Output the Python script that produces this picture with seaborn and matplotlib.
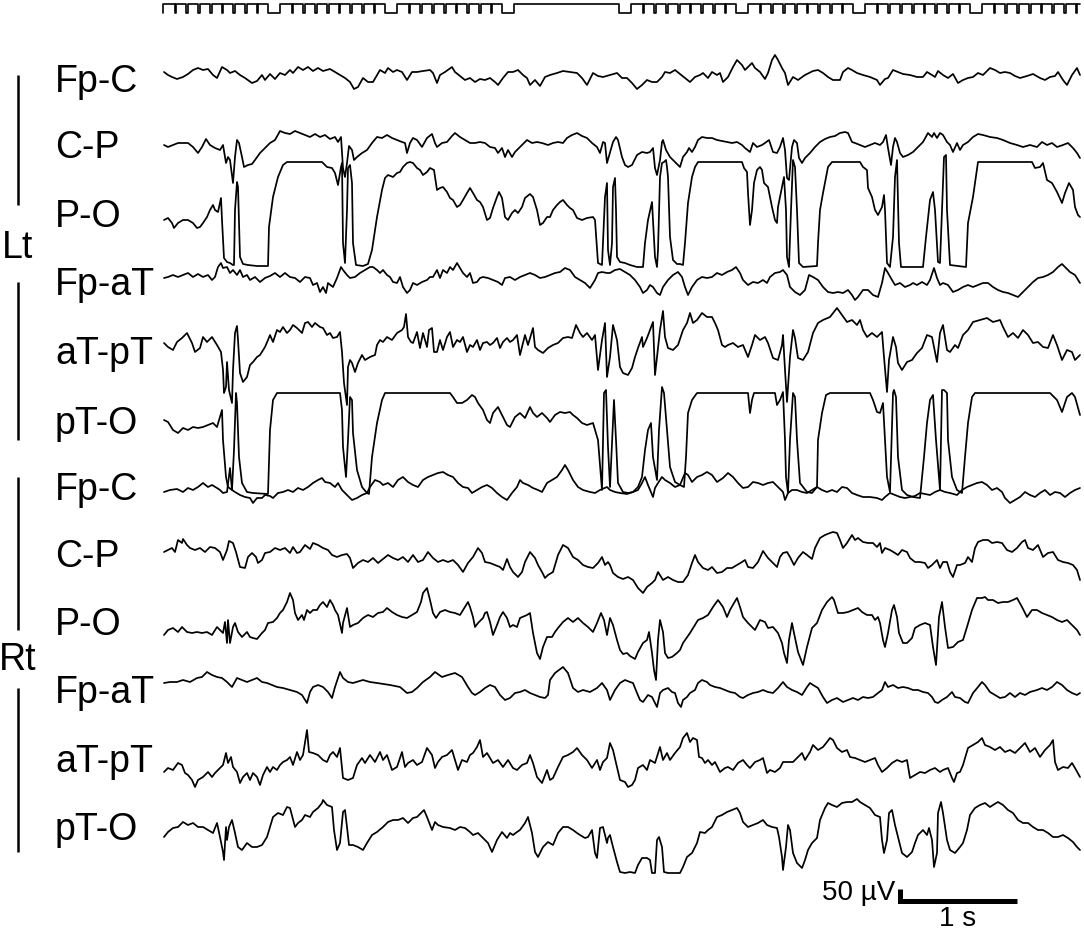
import numpy as np
import pandas as pd
import matplotlib
matplotlib.use('Agg')
import matplotlib.pyplot as plt
import seaborn as sns

# Digitised EEG epoch, one array per derivation: (sample number, raw value).
# Sampling 117 Hz, epoch starts at sample 163, raw values are negative-up (EEG convention),
# 1 raw unit = 4 uV.
fs = 117.0
n0 = 163
uv_per_unit = 4.0

lt_fp_c = [(164,72),(168,75),(172,77),(177,79),(183,77),(188,74),(193,70),(198,68),(203,70),(208,69),(213,75),(217,78),(222,67),(227,70),(230,73),(235,71),(240,75),(245,78),(252,83),(257,81),(262,75),(265,80),(270,74),(275,79),(280,73),(285,75),(290,70),(293,73),(298,67),(303,70),(308,67),(313,71),(318,68),(323,71),(330,69),(335,72),(340,75),(345,78),(350,82),(354,89),(358,87),(363,78),(368,82),(373,82),(380,70),(385,73),(388,68),(393,72),(397,70),(402,72),(407,80),(412,72),(417,72),(423,71),(430,70),(433,73),(437,83),(440,75),(445,72),(452,67),(455,72),(460,76),(465,80),(470,78),(475,82),(480,79),(485,80),(490,78),(495,82),(498,85),(503,78),(508,72),(513,72),(518,70),(523,75),(527,78),(530,85),(535,80),(540,86),(545,77),(550,75),(557,73),(563,71),(570,72),(577,73),(582,78),(587,85),(593,73),(598,76),(603,77),
           (610,75),(617,73),(622,78),(627,78),(632,83),(637,89),(642,85),(647,80),(652,82),(657,82),(662,77),(665,72),(670,73),(675,70),(680,74),(685,78),(690,82),(695,77),(700,75),(703,73),(708,78),(712,72),(717,75),(720,73),(723,82),(728,77),(733,67),(737,60),(742,65),(745,70),(748,67),(752,63),(755,68),(760,72),(765,79),(768,73),(772,60),(775,55),(778,60),(782,68),(785,73),(788,85),(793,77),(798,80),(805,75),(813,71),(818,70),(823,73),(828,77),(833,80),(840,80),(843,72),(848,68),(852,70),(857,73),(863,75),(870,77),(877,80),(880,85),(885,79),(888,78),(893,70),(898,72),(903,74),(910,75),(917,77),(923,77),(927,72),(932,75),(935,77),(938,71),(943,75),(948,78),(953,74),(958,83),(963,80),(968,78),(973,77),(978,73),(983,75),(990,68),(995,70),(1000,73),(1005,72),(1010,73),(1015,76),(1020,78),(1027,76),(1033,74),(1040,78),(1045,80),(1050,77),(1055,76),(1058,72),(1063,80),(1067,85),(1072,75),(1077,68),(1080,75)]

lt_c_p = [(164,145),(168,147),(173,145),(178,143),(183,143),(188,143),(193,147),(198,153),(202,147),(206,139),(210,145),(215,148),(220,150),(223,145),(226,163),(228,157),(230,160),(233,183),(235,157),(237,140),(239,143),(242,157),(244,167),(248,165),(252,164),(255,160),(260,153),(265,148),(270,143),(275,140),(280,131),(285,133),(290,134),(295,131),(300,133),(305,135),(310,137),(315,134),(320,137),(325,135),(330,139),(335,137),(338,142),(341,137),(343,168),(345,177),(347,163),(349,146),(352,150),(354,160),(357,157),(362,153),(367,150),(372,143),(377,137),(382,138),(387,135),(392,138),(397,140),(402,142),(405,143),(407,153),(410,143),(413,138),(417,140),(422,147),(427,138),(432,134),(435,143),(437,147),(442,143),(447,142),(452,136),(455,133),(460,137),(465,140),(470,143),(475,143),(480,142),(485,143),(490,147),(495,148),(498,153),(502,148),(505,157),(508,150),(512,157),(515,152),(520,147),(527,140),(532,143),(537,142),(542,143),(548,145),(553,143),(558,142),(563,143),(567,138),(572,135),(577,133),(582,136),(587,138),(592,143),(597,147),(600,153),(603,142),(605,143),(607,163),
          (613,142),(616,137),(618,140),(622,157),(625,165),(628,167),(632,165),(637,155),(642,152),(647,153),(650,152),(653,148),(655,168),(657,175),(660,160),(662,142),(663,140),(666,150),(670,157),(675,162),(680,167),(683,157),(687,152),(689,148),(692,152),(695,147),(698,140),(702,137),(707,138),(712,138),(717,140),(722,141),(727,142),(732,143),(737,142),(742,145),(745,148),(750,152),(753,143),(757,147),(762,145),(765,143),(769,140),(773,152),(777,153),(780,147),(783,138),(785,150),(787,178),(789,180),(792,147),(794,140),(797,143),(799,158),(802,163),(805,158),(810,153),(815,147),(820,142),(825,139),(830,137),(835,136),(840,133),(845,132),(848,133),(852,142),(855,143),(860,145),(865,147),(870,145),(875,143),(880,145),(883,142),(886,135),(888,148),(891,165),(893,147),(895,138),(897,142),(900,153),(903,157),(908,155),(913,152),(918,147),(923,142),(928,133),(932,137),(934,133),(937,138),(940,133),(943,135),(947,142),(950,145),(953,152),(957,143),(960,150),(963,145),(968,142),(973,137),(978,134),(983,135),(990,137),(997,138),(1003,140),(1010,143),(1017,145),(1023,147),(1030,145),(1037,147),(1042,142),(1047,145),(1052,143),(1057,147),(1063,145),(1068,143),(1073,148),(1077,153),(1080,158)]

lt_p_o = [(164,220),(168,218),(172,223),(174,228),(178,223),(183,220),(188,220),(193,223),(197,228),(200,227),(203,223),(207,217),(210,210),(213,205),(215,210),(218,212),(220,203),(221,198),(222,220),(224,258),(227,262),(230,263),(233,265),(234,265),(235,210),(237,182),(238,187),(240,257),(243,264),(248,265),(257,266),(268,266),(269,227),(273,197),(278,177),(283,165),(287,162),(300,162),(317,162),(322,162),(327,167),(332,168),(335,173),(338,185),(341,167),(342,163),(343,243),(345,263),(347,210),(348,168),(350,165),(352,183),(353,243),(356,265),(363,266),(368,264),(372,250),(377,217),(382,190),(385,178),(388,175),(393,177),(397,173),(400,172),(403,167),(407,163),(410,162),(413,163),(417,168),(420,170),(423,175),(427,172),(430,168),(434,170),(437,190),(440,188),(443,187),(447,192),(450,198),(453,200),(457,207),(460,205),(463,200),(467,193),(470,188),(473,193),(477,200),(480,202),(483,207),(487,220),(490,218),(493,208),(497,197),(499,192),(502,198),(505,217),(508,220),(512,213),(515,210),(518,213),(522,207),(525,198),(530,194),(533,197),(537,210),(540,225),(543,223),(547,217),(550,217),(553,210),(557,205),(560,202),(563,200),(567,205),(570,208),(573,210),(577,218),(582,220),(587,218),(593,217),(595,220),(598,263),(602,265),(605,197),(607,183),(608,250),
          (610,265),(612,243),(613,187),(615,178),(616,210),(617,257),(620,262),(625,263),(630,265),(637,267),(643,267),(645,243),(648,220),(652,202),(653,220),(655,257),(657,267),(658,250),(660,177),(662,163),(664,162),(666,160),(667,167),(668,177),(670,237),(673,260),(677,264),(680,264),(683,265),(685,243),(688,203),(692,177),(695,167),(698,162),(710,162),(742,162),(744,168),(747,172),(748,193),(750,225),(752,210),(754,183),(757,170),(760,167),(762,170),(764,183),(768,187),(772,207),(775,220),(777,223),(778,207),(782,187),(784,177),(786,210),(787,257),(789,267),(791,210),(793,160),(795,167),(797,210),(799,263),(803,267),(817,266),(818,243),(820,210),(823,193),(828,167),(832,162),(860,162),(863,167),(867,170),(868,188),(872,197),(875,210),(878,215),(882,207),(884,195),(885,210),(887,263),(890,267),(893,237),(895,177),(897,160),(899,243),(901,267),(923,267),(926,237),(930,200),(933,192),(935,210),(938,262),(940,263),(942,210),(944,157),(946,155),(947,210),(950,265),(966,267),(968,223),(973,197),(978,162),(1032,162),(1035,168),(1040,167),(1043,163),(1047,180),(1052,183),(1057,192),(1062,203),(1065,193),(1069,183),(1073,190),(1075,207),(1078,215),(1080,217)]

lt_fp_at = [(164,278),(168,277),(173,275),(178,277),(183,275),(188,273),(193,277),(198,274),(203,277),(208,275),(212,280),(215,277),(218,267),(221,263),(223,268),(227,267),(230,273),(233,270),(237,275),(240,270),(243,277),(247,275),(250,280),(255,277),(260,282),(265,278),(270,276),(275,273),(280,277),(285,273),(290,277),(295,278),(300,282),(305,277),(310,278),(313,285),(317,283),(320,292),(323,287),(326,293),(328,283),(333,287),(337,278),(341,267),(343,270),(347,275),(350,278),(355,277),(360,273),(365,270),(370,267),(373,267),(377,270),(380,273),(383,270),(387,275),(390,277),(393,282),(397,283),(400,277),(403,287),(407,293),(410,290),(413,283),(417,285),(422,282),(427,280),(430,277),(433,277),(437,270),(440,278),(443,270),(447,273),(450,267),(453,270),(457,263),(460,268),(463,273),(467,277),(470,273),(473,283),(477,282),(480,278),(483,277),(488,278),(493,280),(498,282),(502,285),(505,278),(510,277),(515,280),(520,277),(525,275),(530,273),(535,275),(540,278),(545,277),(550,275),(555,273),(560,272),(565,268),(570,270),(575,277),(580,280),(585,283),(590,288),(595,280),(598,273),(602,272),(607,273),
            (610,273),(615,270),(620,269),(625,272),(630,275),(635,280),(640,287),(643,293),(647,290),(650,285),(653,287),(657,293),(660,295),(663,287),(668,280),(673,275),(678,272),(682,277),(685,287),(688,295),(692,287),(697,280),(702,277),(707,278),(712,277),(717,273),(722,275),(727,272),(732,270),(736,267),(740,273),(743,280),(748,285),(753,282),(758,283),(763,280),(767,283),(770,277),(775,273),(780,272),(783,270),(787,275),(790,287),(795,292),(800,295),(805,290),(809,275),(813,277),(818,280),(823,287),(828,292),(833,293),(838,292),(843,293),(848,290),(852,295),(855,300),(858,297),(863,290),(868,290),(873,295),(878,297),(882,283),(885,268),(888,273),(892,280),(895,285),(900,283),(905,287),(910,285),(913,283),(917,285),(922,282),(927,285),(930,280),(934,268),(937,278),(940,285),(943,283),(948,285),(953,292),(958,290),(963,287),(968,285),(973,287),(978,285),(983,283),(988,283),(993,287),(998,290),(1003,292),(1008,293),(1013,295),(1018,297),(1023,292),(1028,287),(1033,282),(1038,278),(1043,277),(1048,275),(1053,272),(1058,267),(1062,264),(1065,267),(1070,272),(1075,275),(1080,283)]

lt_at_pt = [(164,343),(168,347),(173,350),(177,342),(182,338),(187,333),(192,343),(195,352),(200,348),(203,337),(207,342),(212,337),(217,345),(221,352),(223,370),(224,393),(226,387),(227,362),(229,390),(232,403),(233,370),(235,333),(237,326),(238,340),(240,373),(243,382),(247,377),(250,365),(253,362),(257,357),(260,355),(265,347),(268,340),(270,335),(273,342),(277,330),(280,332),(283,327),(287,333),(290,330),(293,325),(297,328),(302,333),(305,323),(308,322),(312,327),(315,323),(320,327),(323,328),(327,335),(330,333),(333,338),(337,337),(340,332),(342,352),(344,383),(347,405),(348,367),(350,360),(352,363),(355,372),(358,363),(362,355),(365,360),(370,357),(375,355),(377,345),(380,340),(383,342),(387,337),(392,340),(397,333),(402,330),(404,327),(406,314),(408,337),(411,342),(413,343),(417,332),(420,348),(423,333),(427,347),(429,330),(432,328),(434,352),(437,352),(440,340),(443,350),(447,337),(450,332),(453,347),(457,340),(460,342),(463,337),(467,352),(470,345),(473,347),(477,340),(480,350),(483,343),(487,342),(490,345),(493,343),(497,338),(500,348),(503,342),(507,338),(510,342),(513,340),(517,335),(520,355),(525,335),(528,345),(533,328),(535,347),(538,350),(543,353),(548,348),(553,345),(558,343),(563,338),(568,337),(572,338),(576,325),(580,333),(583,337),(587,333),(592,340),(595,335),(598,370),(602,340),(605,323),(607,377),
            (610,357),(613,325),(617,340),(620,367),(623,373),(628,375),(632,368),(635,357),(638,348),(642,337),(643,347),(647,338),(650,330),(653,322),(655,375),(657,357),(660,330),(663,311),(665,337),(668,348),(673,350),(678,345),(683,330),(687,323),(690,313),(693,323),(697,320),(702,313),(707,317),(712,317),(715,323),(718,330),(722,345),(725,347),(728,345),(733,343),(738,347),(743,345),(748,357),(752,345),(755,335),(760,340),(765,337),(768,343),(773,358),(778,360),(782,345),(783,335),(785,370),(787,402),(790,357),(793,330),(795,338),(798,358),(803,360),(808,352),(813,333),(818,323),(823,320),(830,317),(837,308),(842,315),(847,322),(852,320),(857,325),(860,320),(863,330),(867,337),(872,333),(877,337),(882,332),(884,357),(887,392),(889,360),(893,337),(896,347),(898,363),(902,370),(907,362),(912,360),(917,353),(922,348),(927,335),(932,337),(937,362),(940,333),(943,325),(947,350),(950,352),(955,345),(958,348),(963,335),(968,330),(973,322),(980,320),(987,318),(993,322),(1000,320),(1003,327),(1008,337),(1013,333),(1018,338),(1023,330),(1028,335),(1033,343),(1038,342),(1043,347),(1048,348),(1053,335),(1057,345),(1062,360),(1067,350),(1072,352),(1075,360),(1080,355)]

lt_pt_o = [(164,420),(168,422),(173,430),(178,433),(183,428),(188,430),(193,427),(198,428),(203,427),(208,425),(213,423),(217,427),(220,417),(222,410),(223,440),(226,477),(228,487),(232,490),(234,450),(236,393),(237,403),(239,457),(242,483),(247,492),(253,493),(268,494),(270,430),(273,400),(277,393),(283,393),(340,393),(342,410),(343,447),(346,477),(348,440),(350,397),(352,400),(353,433),(357,470),(362,487),(367,493),(369,494),(372,457),(377,423),(382,400),(385,393),(450,393),(453,397),(457,403),(462,403),(467,400),(472,395),(475,397),(478,403),(483,410),(487,420),(490,423),(493,413),(498,407),(503,417),(507,425),(510,427),(515,417),(520,413),(525,418),(530,407),(533,413),(537,417),(542,413),(547,418),(550,422),(555,415),(560,412),(565,413),(570,412),(573,415),(577,418),(582,423),(587,425),(593,423),(598,440),(602,490),(604,393),(606,390),(608,447),
           (610,487),(613,423),(614,400),(616,440),(618,483),(623,492),(628,493),(633,492),(638,487),(642,477),(645,450),(648,430),(651,423),(653,457),(657,480),(659,430),(662,387),(664,393),(667,430),(670,467),(675,482),(680,485),(684,487),(686,457),(688,413),(692,400),(697,393),(748,393),(750,413),(752,400),(754,393),(775,393),(777,405),(780,400),(783,392),(785,440),(786,477),(788,493),(790,440),(793,393),(795,397),(797,440),(800,483),(807,492),(812,493),(817,487),(818,440),(822,413),(826,395),(830,393),(870,393),(873,400),(877,412),(880,413),(883,403),(885,440),(887,477),(890,492),(893,393),(894,390),(896,397),(898,457),(902,490),(907,495),(913,497),(920,498),(924,457),(927,423),(930,400),(933,395),(936,440),(940,490),(942,390),(944,390),(947,393),(948,440),(952,477),(957,490),(962,493),(965,457),(968,423),(972,397),(975,393),(1050,393),(1057,400),(1062,412),(1067,397),(1072,393),(1075,397),(1080,415)]

rt_fp_c = [(164,492),(170,490),(177,489),(183,492),(188,488),(193,490),(198,487),(203,483),(208,487),(212,485),(217,488),(220,490),(223,493),(227,492),(230,468),(232,490),(235,492),(240,495),(245,497),(250,498),(253,503),(257,498),(262,498),(265,495),(270,496),(273,498),(278,493),(283,492),(288,490),(293,492),(298,488),(303,490),(308,487),(313,483),(318,480),(322,478),(325,482),(330,483),(335,487),(338,483),(342,490),(347,495),(352,500),(357,498),(362,495),(367,493),(370,487),(375,480),(380,482),(383,485),(388,483),(393,487),(398,480),(403,477),(408,482),(413,485),(418,487),(423,480),(428,477),(433,475),(438,473),(443,472),(448,475),(453,477),(458,483),(463,487),(468,488),(472,493),(477,490),(482,487),(487,485),(492,488),(497,493),(502,497),(507,500),(512,493),(517,487),(520,480),(523,483),(528,485),(533,488),(538,490),(542,492),(547,483),(552,480),(557,477),(562,470),(565,465),(568,470),(573,480),(578,487),(583,490),(590,492),(595,493),(600,490),(607,487),
           (610,490),(615,492),(620,493),(627,494),(633,492),(638,490),(642,483),(645,477),(648,485),(653,497),(655,488),(658,483),(662,477),(665,480),(670,483),(675,487),(680,485),(685,473),(688,475),(692,482),(697,477),(702,475),(707,472),(712,475),(717,482),(723,478),(728,473),(733,477),(738,483),(743,488),(748,487),(753,482),(758,483),(763,485),(768,483),(773,482),(778,487),(783,492),(785,500),(788,493),(792,490),(797,490),(802,492),(807,493),(812,490),(817,487),(822,490),(827,492),(832,490),(837,492),(842,487),(847,488),(852,493),(857,495),(863,497),(870,497),(877,498),(882,500),(885,497),(890,493),(895,495),(900,497),(905,498),(910,497),(915,496),(920,493),(925,494),(930,495),(935,492),(940,490),(945,492),(950,493),(957,495),(962,490),(967,487),(972,485),(977,483),(982,482),(987,485),(992,490),(997,488),(1002,492),(1005,498),(1010,503),(1015,500),(1020,497),(1025,492),(1030,495),(1035,497),(1040,493),(1045,490),(1050,495),(1055,492),(1060,493),(1065,497),(1070,493),(1075,490),(1080,488)]

rt_c_p = [(164,552),(168,550),(172,548),(175,552),(178,540),(182,543),(183,539),(187,545),(190,548),(195,550),(200,548),(205,552),(210,547),(215,548),(220,552),(223,560),(227,550),(229,541),(233,543),(236,552),(240,567),(245,568),(248,557),(252,553),(256,557),(258,563),(262,560),(265,553),(270,552),(275,548),(280,550),(285,548),(290,553),(293,547),(297,553),(300,552),(305,545),(310,549),(313,543),(318,545),(323,548),(328,550),(332,555),(337,557),(342,555),(347,554),(350,558),(353,568),(358,563),(363,560),(368,562),(373,558),(378,563),(383,559),(388,555),(393,558),(398,560),(403,557),(408,562),(413,555),(418,562),(423,560),(428,552),(433,558),(438,562),(443,560),(448,562),(453,560),(458,565),(463,572),(468,563),(473,557),(478,548),(482,553),(485,562),(490,563),(495,565),(500,567),(503,570),(507,559),(510,567),(513,572),(518,577),(522,572),(525,562),(530,552),(535,558),(538,565),(542,572),(545,578),(548,575),(553,572),(558,555),(563,545),(568,548),(573,557),(578,560),(583,565),(588,567),(593,568),(598,563),(602,557),(605,565),(608,562),
          (610,565),(613,573),(618,577),(623,579),(628,577),(633,580),(638,588),(643,593),(647,587),(652,583),(655,580),(658,572),(663,580),(668,577),(673,580),(678,582),(683,582),(688,575),(692,563),(695,555),(698,562),(703,568),(708,570),(712,567),(717,573),(722,572),(727,568),(732,568),(737,565),(742,562),(745,560),(748,567),(753,568),(758,562),(763,551),(768,558),(773,563),(777,567),(780,557),(783,553),(787,552),(790,557),(794,565),(798,558),(803,552),(807,555),(812,559),(815,548),(820,538),(825,535),(830,533),(833,532),(837,533),(840,540),(843,548),(847,543),(852,535),(855,540),(858,538),(863,542),(868,543),(873,543),(877,547),(880,543),(882,553),(885,548),(890,550),(895,553),(898,555),(902,550),(907,552),(910,558),(915,562),(920,562),(925,563),(928,568),(932,565),(937,560),(940,568),(943,562),(947,562),(950,572),(953,577),(957,565),(960,565),(965,563),(968,557),(972,562),(975,548),(978,542),(983,540),(988,540),(992,543),(997,542),(1002,543),(1007,550),(1012,552),(1017,548),(1022,542),(1025,540),(1028,548),(1033,550),(1038,545),(1043,557),(1048,553),(1053,552),(1058,560),(1063,562),(1068,563),(1073,565),(1077,570),(1080,580)]

rt_p_o = [(164,635),(168,630),(173,628),(178,632),(182,627),(187,632),(192,633),(197,632),(202,633),(207,632),(212,635),(217,627),(220,630),(223,633),(225,622),(227,643),(228,620),(230,643),(233,627),(235,623),(238,632),(242,637),(247,632),(250,637),(253,638),(257,639),(262,633),(265,630),(268,623),(273,622),(277,618),(280,613),(283,610),(287,602),(290,593),(293,600),(295,613),(298,620),(302,615),(304,620),(307,610),(310,613),(313,610),(317,610),(320,605),(323,602),(327,607),(330,600),(333,605),(335,610),(338,615),(342,633),(343,623),(347,608),(350,627),(353,625),(358,623),(363,618),(368,615),(373,617),(378,613),(383,612),(387,608),(392,612),(397,615),(402,617),(407,618),(412,615),(417,612),(421,602),(423,593),(427,588),(430,600),(433,613),(436,618),(440,612),(445,610),(450,612),(455,613),(460,615),(465,607),(468,602),(470,607),(473,617),(475,627),(478,623),(483,618),(485,613),(487,612),(490,622),(493,635),(497,625),(500,617),(503,612),(507,618),(510,627),(513,625),(517,627),(520,618),(527,615),(530,613),(533,633),(537,653),(540,659),(543,647),(547,637),(552,637),(555,632),(558,628),(563,622),(568,618),(573,622),(578,618),(583,623),(588,627),(593,632),(597,623),(601,613),(604,620),(607,635),
          (610,618),(613,625),(617,640),(620,650),(623,654),(627,653),(630,656),(635,659),(638,652),(643,643),(647,640),(649,632),(652,653),(654,670),(656,680),(658,640),(660,620),(663,632),(665,653),(668,658),(672,657),(677,653),(680,650),(683,643),(690,633),(695,625),(698,620),(703,618),(708,615),(713,607),(718,600),(723,607),(727,617),(730,610),(734,603),(737,598),(740,607),(743,617),(748,623),(755,630),(760,620),(765,622),(768,628),(773,627),(778,633),(782,643),(784,653),(787,663),(789,640),(792,623),(794,633),(798,652),(803,665),(807,647),(812,628),(817,623),(822,610),(827,602),(832,597),(834,600),(838,613),(843,613),(848,612),(853,610),(858,608),(862,612),(867,615),(872,615),(875,620),(878,617),(880,623),(883,640),(885,647),(888,633),(892,610),(894,605),(897,617),(899,633),(903,643),(907,643),(912,638),(915,628),(920,625),(925,623),(930,625),(933,647),(936,665),(939,617),(942,602),(945,627),(948,648),(953,647),(958,642),(963,640),(967,627),(972,610),(977,598),(982,598),(985,597),(988,600),(993,600),(998,603),(1003,602),(1008,602),(1013,600),(1017,598),(1022,607),(1027,617),(1032,610),(1037,610),(1042,613),(1047,615),(1052,617),(1057,620),(1062,622),(1067,620),(1072,625),(1077,630),(1080,635)]

rt_fp_at = [(164,683),(170,682),(177,682),(183,680),(190,682),(197,678),(202,677),(207,672),(212,675),(217,677),(222,678),(227,682),(232,687),(237,678),(242,680),(247,682),(252,680),(257,678),(262,682),(267,683),(272,685),(277,687),(283,688),(290,690),(297,692),(302,695),(307,703),(310,692),(313,687),(318,685),(323,687),(328,692),(332,698),(335,687),(340,672),(343,678),(348,682),(353,683),(363,680),(370,682),(377,683),(390,685),(400,687),(407,693),(412,692),(417,688),(423,682),(430,677),(435,672),(442,677),(448,675),(455,673),(462,677),(468,687),(472,693),(475,695),(480,692),(485,688),(490,685),(495,687),(500,695),(505,700),(510,698),(515,693),(520,692),(525,690),(530,693),(535,695),(540,697),(545,698),(548,695),(550,680),(555,673),(563,667),(568,673),(573,688),(578,692),(583,690),(590,692),(597,688),(602,683),(607,690),
            (610,700),(615,690),(620,683),(625,680),(630,682),(633,683),(637,693),(640,700),(643,702),(648,695),(652,697),(655,703),(657,707),(660,693),(663,690),(668,688),(672,692),(675,693),(678,703),(681,707),(683,700),(687,697),(690,693),(695,690),(698,683),(702,680),(707,682),(710,685),(715,687),(720,688),(725,690),(730,692),(735,693),(740,697),(743,698),(748,695),(753,693),(758,692),(763,690),(768,692),(773,693),(778,688),(783,682),(787,687),(792,690),(797,692),(802,695),(807,687),(810,683),(813,685),(818,688),(823,697),(827,703),(832,700),(837,698),(843,702),(848,700),(853,698),(858,700),(863,697),(868,698),(873,697),(878,693),(882,690),(885,682),(888,687),(893,685),(898,688),(903,687),(908,688),(913,690),(918,690),(923,692),(928,693),(932,697),(935,702),(938,703),(942,700),(947,697),(952,692),(955,697),(960,698),(965,702),(968,703),(973,693),(978,687),(982,682),(985,685),(990,692),(995,695),(1000,698),(1005,697),(1010,693),(1015,697),(1020,693),(1025,695),(1030,692),(1037,690),(1042,688),(1047,690),(1052,687),(1057,682),(1062,685),(1067,690),(1072,693),(1077,695),(1080,693)]

rt_at_pt = [(164,772),(168,768),(173,770),(178,763),(182,765),(185,773),(188,775),(192,780),(195,787),(198,780),(203,777),(208,772),(212,777),(215,773),(218,770),(223,765),(226,753),(228,763),(231,757),(233,767),(237,772),(240,783),(243,777),(247,773),(250,780),(253,773),(257,777),(260,785),(263,775),(267,767),(270,772),(273,767),(277,770),(280,765),(283,762),(287,760),(290,757),(293,765),(297,752),(300,760),(303,755),(307,730),(309,752),(313,753),(318,755),(323,760),(327,762),(330,755),(333,752),(337,757),(340,748),(343,778),(348,780),(353,778),(357,765),(362,758),(365,763),(370,755),(375,762),(380,752),(383,760),(387,755),(392,770),(397,767),(402,752),(405,767),(408,763),(413,760),(417,765),(422,762),(427,748),(432,755),(435,768),(438,762),(442,757),(447,755),(452,750),(455,760),(458,770),(462,760),(467,762),(470,755),(473,753),(477,747),(480,740),(483,757),(487,753),(490,758),(493,763),(498,760),(503,767),(508,760),(513,768),(517,770),(522,765),(527,763),(530,755),(533,763),(537,777),(542,783),(547,770),(550,780),(553,778),(558,767),(563,757),(568,755),(573,752),(577,748),(582,755),(587,760),(592,768),(597,760),(600,770),(603,762),(607,758),
            (610,743),(613,750),(617,767),(620,780),(625,782),(628,787),(632,785),(635,780),(638,768),(643,765),(647,770),(650,760),(655,763),(660,747),(663,760),(667,753),(670,760),(675,753),(680,747),(683,738),(687,733),(690,742),(693,738),(697,740),(699,757),(702,758),(705,763),(708,760),(712,765),(715,762),(720,772),(725,768),(728,767),(733,770),(738,763),(743,760),(747,765),(750,768),(755,762),(760,760),(763,758),(767,773),(770,770),(775,772),(780,768),(783,762),(788,762),(793,762),(798,757),(802,753),(805,760),(810,752),(813,745),(818,750),(823,747),(827,742),(830,738),(833,740),(837,748),(842,752),(847,750),(850,757),(855,758),(860,760),(865,762),(870,760),(875,758),(878,765),(882,772),(887,768),(892,763),(897,760),(902,762),(907,760),(910,778),(915,775),(920,772),(925,773),(930,770),(935,768),(940,772),(943,770),(948,768),(952,778),(954,782),(957,773),(960,772),(963,765),(968,748),(973,745),(978,742),(982,738),(985,745),(990,747),(995,750),(1000,747),(1005,752),(1010,750),(1015,753),(1020,748),(1025,743),(1030,752),(1035,748),(1040,757),(1045,750),(1050,745),(1053,740),(1055,762),(1058,770),(1063,767),(1068,768),(1072,763),(1075,768),(1080,777)]

rt_pt_o = [(164,837),(168,832),(173,828),(178,827),(183,822),(188,825),(193,823),(198,827),(203,827),(208,830),(213,833),(217,823),(220,837),(223,852),(224,860),(226,827),(227,840),(229,827),(232,820),(235,833),(238,847),(242,850),(247,843),(252,847),(257,847),(262,845),(267,837),(270,827),(273,817),(278,813),(283,815),(287,807),(290,808),(295,827),(298,823),(302,820),(305,815),(310,817),(313,812),(318,808),(322,803),(323,800),(327,805),(332,807),(334,830),(337,850),(340,843),(343,812),(345,810),(347,827),(349,845),(353,845),(358,847),(363,850),(367,843),(372,835),(377,832),(383,827),(388,822),(393,820),(398,820),(403,818),(408,823),(413,818),(417,817),(421,813),(424,810),(427,817),(432,830),(435,822),(438,825),(443,827),(450,828),(455,830),(460,827),(465,828),(470,832),(473,835),(478,833),(483,838),(488,843),(492,852),(497,840),(502,832),(507,838),(510,833),(513,835),(517,832),(520,830),(525,823),(528,817),(532,833),(535,852),(538,857),(543,847),(548,842),(553,845),(558,833),(563,827),(568,827),(573,830),(577,833),(580,835),(585,838),(588,837),(592,830),(595,853),(597,858),(600,828),(603,827),(607,843),(608,838),
           (610,835),(613,847),(617,862),(620,872),(625,873),(630,872),(635,873),(638,865),(642,858),(647,858),(650,860),(652,873),(655,873),(657,840),(659,837),(662,847),(664,872),(668,873),(680,873),(683,867),(687,857),(692,853),(697,843),(700,832),(705,833),(708,830),(712,827),(717,817),(722,815),(727,812),(732,810),(737,808),(740,813),(743,822),(748,827),(753,825),(758,823),(763,820),(767,825),(772,827),(777,828),(779,837),(782,857),(783,870),(786,847),(788,825),(790,830),(793,853),(797,863),(802,868),(805,860),(808,850),(812,843),(817,838),(820,820),(825,808),(828,803),(832,805),(837,807),(842,803),(847,802),(852,802),(857,799),(860,802),(865,805),(870,808),(875,815),(880,817),(882,840),(884,853),(887,840),(889,813),(892,810),(895,825),(898,837),(902,853),(907,857),(912,852),(915,843),(918,835),(923,830),(927,835),(929,828),(932,840),(934,867),(937,853),(938,813),(941,802),(943,813),(947,840),(950,850),(955,853),(960,847),(963,843),(967,830),(970,815),(975,808),(980,805),(985,803),(990,807),(993,805),(998,802),(1003,805),(1008,810),(1013,813),(1018,820),(1023,823),(1028,823),(1033,827),(1038,830),(1043,830),(1048,833),(1053,837),(1058,837),(1063,835),(1068,838),(1073,842),(1077,847),(1080,850)]

derivations = ['Fp-C', 'C-P', 'P-O', 'Fp-aT', 'aT-pT', 'pT-O'] * 2
sides = ['Lt'] * 6 + ['Rt'] * 6
traces = [lt_fp_c, lt_c_p, lt_p_o, lt_fp_at, lt_at_pt, lt_pt_o,
          rt_fp_c, rt_c_p, rt_p_o, rt_fp_at, rt_at_pt, rt_pt_o]
# DC offset of each channel (raw units) -- removed before stacking
channel_dc = [82, 148, 217, 285, 354, 424, 490, 557, 625, 693, 762, 830]

# time-marker channel: 0.1 s ticks, a long pulse each second, no ticks in the gap
clock_seconds = [0.9, 1.9, 2.9, 3.9, 4.9, 5.9, 6.9]
clock_gap = (3.0, 3.9)
clock_step = 0.1
epoch_end = 7.84

# ---- layout (canvas pixels of the 1084 x 932 figure) ----
W, H = 1084, 932


def to_data(xp, yp):
    return (xp - n0) / fs, yp * uv_per_unit


# build a long table of the stacked montage
frames = []
for k, pts in enumerate(traces):
    arr = np.asarray(pts, dtype=float)
    t = (arr[:, 0] - n0) / fs
    uv = (arr[:, 1] - channel_dc[k]) * uv_per_unit
    row = channel_dc[k] * uv_per_unit
    frames.append(pd.DataFrame({'time_s': t, 'uV': uv, 'pos': row + uv,
                                'trace': k, 'side': sides[k], 'lead': derivations[k]}))
eeg = pd.concat(frames, ignore_index=True)

# clock trace
ct, cs = [0.0, 0.0], [1, 0]
for m in range(1, int(round(epoch_end / clock_step)) + 1):
    t = round(m * clock_step, 3)
    if clock_gap[0] < t < clock_gap[1] - 1e-9:
        continue
    if any(abs(t - s) < 1e-6 for s in clock_seconds):
        ct += [t, t, t + clock_step, t + clock_step]
        cs += [0, 1, 1, 0]
    elif m % 10 == 0:
        continue
    else:
        ct += [t, t, t + 0.015, t + 0.015]
        cs += [0, 1, 1, 0]
ct.append(epoch_end)
cs.append(0)
clock_hi, clock_lo = 4, 13
clock = pd.DataFrame({'time_s': ct,
                      'pos': [(clock_lo if s else clock_hi) * uv_per_unit for s in cs]})

sns.set_theme(style='white')
plt.rcParams['font.family'] = ['Liberation Sans', 'DejaVu Sans']

fig = plt.figure(figsize=(W / 100, H / 100), dpi=100)
ax = fig.add_axes([0, 0, 1, 1])

sns.lineplot(data=eeg, x='time_s', y='pos', units='trace', estimator=None, sort=False,
             color='black', lw=1.25, ax=ax, legend=False)
sns.lineplot(data=clock, x='time_s', y='pos', estimator=None, sort=False,
             color='black', lw=1.2, ax=ax, legend=False)

ax.set_xlim(-n0 / fs, (W - n0) / fs)
ax.set_ylim(H * uv_per_unit, 0)
ax.axis('off')

# channel labels
for k, name in enumerate(derivations):
    x, y = to_data(55, channel_dc[k])
    ax.text(x, y, name, fontsize=27, ha='left', va='center', color='black')

# hemisphere brackets
for side, ymid, segs in [('Lt', 248, [(75, 205), (282, 440)]),
                         ('Rt', 660, [(477, 630), (688, 852)])]:
    x, y = to_data(18, ymid)
    ax.text(x, y, side, fontsize=27, ha='center', va='center', color='black')
    for y0, y1 in segs:
        xa, ya = to_data(18, y0)
        _, yb = to_data(18, y1)
        ax.plot([xa, xa], [ya, yb], color='black', lw=1.8, solid_capstyle='butt')

# calibration bar: 50 uV / 1 s
bx, by = to_data(900, 901)
ax.plot([bx, bx, bx + 1.0], [by - 50, by, by], color='black', lw=3.6,
        solid_capstyle='butt', solid_joinstyle='miter')
tx, ty = to_data(895, 893)
ax.text(tx, ty, '50 µV', fontsize=20, ha='right', va='center', color='black')
tx, ty = to_data(958, 919)
ax.text(tx, ty, '1 s', fontsize=20, ha='center', va='center', color='black')

fig.savefig('out.png', dpi=100)
